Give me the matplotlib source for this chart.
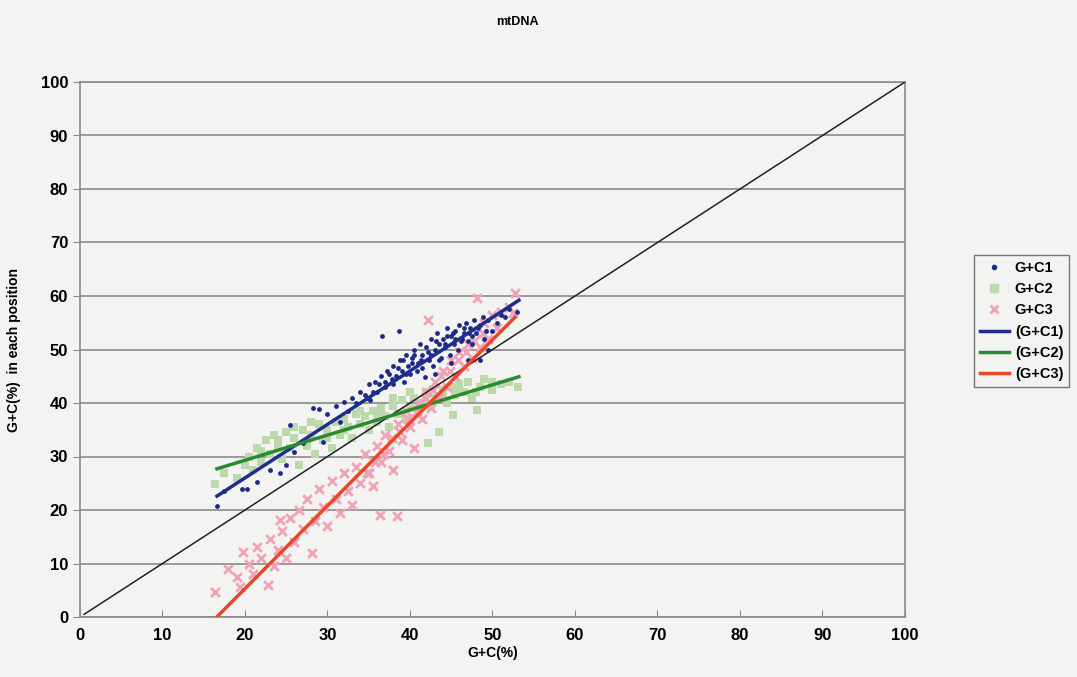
import numpy as np
import matplotlib
matplotlib.use("Agg")
import matplotlib.pyplot as plt
from matplotlib.lines import Line2D

# ---------------- data ----------------
c1_x = [16.6, 17.5, 19.6, 20.3, 21.5, 23.0, 24.2, 25.0, 25.5, 26.0, 27.0, 28.3, 29.0, 29.5, 30.0,
        31.0, 31.5, 32.0, 32.5, 33.0, 33.5, 34.0, 34.5, 35.0, 35.2, 35.8, 36.0, 36.6, 36.5, 37.0,
        37.2, 37.8, 38.0, 38.3, 38.7, 38.8, 39.0, 39.3, 39.5, 39.8, 40.0, 40.3, 40.5, 40.8, 41.0,
        41.2, 41.5, 41.8, 42.0, 42.3, 42.5, 42.8, 43.0, 43.3, 43.5, 43.8, 44.0, 44.3, 44.5, 44.8,
        45.0, 45.3, 45.5, 45.8, 46.0, 46.3, 46.5, 46.8, 47.0, 47.3, 47.5, 47.8, 48.0, 48.5, 49.0,
        49.5, 50.0, 51.0, 52.0, 53.0, 47.0, 45.0, 43.0, 49.5, 48.5,
        36.2, 37.5, 38.5, 39.2, 40.2, 41.3, 42.2, 43.2, 44.2, 45.2, 46.2, 47.2, 48.2, 49.2, 50.5,
        34.8, 35.5, 37.0, 38.0, 39.5, 40.5, 41.5, 42.5, 43.5, 44.5, 45.5, 46.5, 47.5, 48.8, 51.5]
c1_y = [20.7, 23.5, 23.9, 24.0, 25.2, 27.5, 26.9, 28.5, 35.9, 30.8, 32.5, 39.1, 38.8, 32.7, 38.0,
        39.5, 36.5, 40.2, 38.5, 41.0, 40.0, 42.0, 41.5, 43.5, 40.5, 44.0, 42.0, 52.5, 45.0, 43.0,
        46.0, 44.5, 47.0, 45.0, 53.5, 48.0, 46.0, 44.0, 49.0, 47.0, 45.5, 48.5, 50.0, 46.0, 47.5,
        51.0, 49.0, 44.8, 50.5, 48.0, 52.0, 47.0, 50.0, 53.0, 51.0, 48.5, 52.0, 50.5, 54.0, 49.0,
        52.5, 51.0, 53.5, 50.0, 54.5, 52.0, 53.0, 55.0, 51.5, 54.0, 52.5, 55.5, 53.0, 54.5, 52.0,
        55.5, 53.5, 56.5, 57.5, 57.0, 48.0, 47.5, 45.5, 50.0, 48.0,
        43.5, 45.5, 46.5, 48.0, 47.5, 48.0, 49.5, 51.5, 51.0, 53.0, 51.5, 53.0, 54.0, 53.5, 55.0,
        41.0, 42.0, 44.0, 43.5, 45.5, 49.0, 46.5, 49.0, 48.0, 52.5, 52.0, 54.0, 51.0, 56.0, 56.0]

c2_x = [16.4, 17.5, 19.0, 20.0, 20.5, 21.0, 21.5, 22.0, 22.5, 23.0, 23.5, 24.0, 24.5, 25.0, 25.5,
        26.0, 26.5, 27.0, 27.5, 28.0, 28.5, 29.0, 29.5, 30.0, 30.5, 31.0, 31.5, 32.0, 32.5, 33.0,
        33.5, 34.0, 34.5, 35.0, 35.5, 36.0, 36.5, 37.0, 37.5, 38.0, 38.5, 39.0, 39.5, 40.0, 40.5,
        41.0, 41.5, 42.0, 42.2, 42.5, 43.0, 43.5, 44.0, 44.5, 45.0, 45.2, 45.5, 46.0, 46.5, 47.0,
        47.5, 48.1, 48.5, 49.0, 50.0, 51.0, 52.0, 53.1,
        22.0, 24.0, 26.0, 28.0, 30.0, 32.0, 34.0, 36.0, 38.0, 40.0, 42.0, 44.0, 46.0, 48.0, 50.0]
c2_y = [24.9, 27.0, 26.0, 28.5, 30.0, 27.5, 31.5, 29.0, 33.0, 30.5, 34.0, 32.0, 29.5, 34.5, 31.5,
        33.5, 28.5, 35.0, 32.0, 34.0, 30.5, 36.0, 33.0, 35.0, 31.5, 36.5, 34.0, 37.0, 35.5, 33.5,
        38.0, 36.0, 37.5, 35.0, 38.5, 36.5, 39.0, 37.5, 35.5, 39.5, 38.0, 40.5, 37.0, 39.0, 41.0,
        38.5, 40.0, 42.0, 32.5, 39.5, 41.0, 34.5, 42.5, 40.0, 43.0, 37.8, 41.5, 43.5, 42.0, 44.0,
        41.0, 38.7, 43.0, 44.5, 42.5, 43.5, 44.0, 43.0,
        31.0, 33.0, 35.5, 36.5, 33.5, 35.0, 38.5, 38.0, 41.0, 42.0, 40.5, 41.5, 42.5, 42.0, 44.0]

c3_x = [16.4, 18.0, 19.0, 19.4, 19.8, 20.5, 21.0, 21.5, 22.0, 22.8, 23.0, 23.5, 24.0, 24.2, 24.5,
        25.0, 25.5, 26.0, 26.5, 27.0, 27.5, 28.1, 28.5, 29.0, 29.5, 30.0, 30.5, 31.0, 31.5, 32.0,
        32.5, 33.0, 33.5, 34.0, 34.5, 35.0, 35.5, 36.0, 36.4, 36.5, 37.0, 37.5, 38.0, 38.4, 38.5,
        39.0, 39.5, 40.0, 40.5, 41.0, 41.5, 42.0, 42.2, 42.5, 43.0, 43.5, 44.0, 44.5, 45.0, 45.5,
        46.0, 46.5, 47.0, 47.5, 48.1, 48.0, 48.5, 49.0, 49.5, 50.0, 50.5, 51.0, 52.0, 52.5, 52.7,
        36.8, 37.8, 38.8, 39.8, 40.8, 41.8, 42.8, 43.8, 44.8, 45.8, 46.8, 47.8, 48.8, 35.8, 34.8]
c3_y = [4.7, 9.0, 7.5, 5.6, 12.1, 10.0, 8.0, 13.0, 11.0, 6.0, 14.5, 9.5, 12.5, 18.1, 16.0,
        11.0, 18.5, 14.0, 20.0, 16.5, 22.0, 12.0, 18.0, 24.0, 20.5, 17.0, 25.5, 22.0, 19.5, 27.0,
        23.5, 21.0, 28.0, 25.0, 30.5, 27.0, 24.5, 32.0, 19.1, 29.0, 34.0, 31.0, 27.5, 18.9, 36.0,
        33.0, 38.5, 35.5, 31.5, 40.0, 37.0, 42.0, 55.5, 39.0, 44.0, 41.0, 46.0, 43.0, 48.0, 45.0,
        49.5, 47.0, 51.0, 48.5, 59.6, 53.0, 50.5, 55.0, 52.0, 56.5, 54.0, 57.0, 58.0, 56.8, 60.6,
        30.5, 33.5, 34.5, 37.0, 38.5, 41.0, 42.5, 45.0, 46.0, 48.0, 49.5, 51.5, 53.0, 29.0, 27.0]

# linear trend lines: (slope, intercept, x_start, x_end)
fit1 = (1.00, 6.0, 16.6, 53.2)
fit2 = (0.47, 19.9, 16.6, 53.2)
fit3 = (1.55, -25.7, 16.6, 52.7)

diag_x = [0.5, 100]
diag_y = [0.5, 100]

ticks = list(range(0, 101, 10))
series_labels = ["G+C1", "G+C2", "G+C3", "(G+C1)", "(G+C2)", "(G+C3)"]

# ---------------- styling ----------------
plt.rcParams['font.family'] = ['Liberation Sans', 'DejaVu Sans']
plt.rcParams['font.weight'] = 'bold'

bg = '#f3f3f1'
fig = plt.figure(figsize=(10.77, 6.77), dpi=100, facecolor=bg)
ax = fig.add_axes([80/1077, 60/677, 825/1077, 535/677], facecolor=bg)

blue_pt = '#1c2a86'
green_pt = '#bcd9ac'
pink_pt = '#f0a3b6'
blue_ln = '#1f2e8e'
green_ln = '#2a8a30'
red_ln = '#e8472c'

ax.set_xlim(0, 100)
ax.set_ylim(0, 100)
ax.set_xticks(ticks)
ax.set_yticks(ticks)
ax.yaxis.grid(True, color='#8a8a8a', linewidth=1.2)
ax.set_axisbelow(True)
for s in ax.spines.values():
    s.set_color('#8a8a8a')
    s.set_linewidth(1.2)

ax.scatter(c2_x, c2_y, marker='s', s=40, color=green_pt, linewidths=0, zorder=2)
ax.scatter(c3_x, c3_y, marker='x', s=40, color=pink_pt, linewidths=2, zorder=3)
ax.scatter(c1_x, c1_y, marker='o', s=12, color=blue_pt, linewidths=0, zorder=4)

ax.plot(diag_x, diag_y, color='#202020', linewidth=1.1, zorder=5)
for (m, b, x0, x1), col in zip([fit1, fit2, fit3], [blue_ln, green_ln, red_ln]):
    xs = np.array([x0, x1])
    ax.plot(xs, m * xs + b, color=col, linewidth=2.5, zorder=6)

ax.tick_params(axis='x', direction='in', length=5, color='#8a8a8a', labelsize=12, pad=8)
ax.tick_params(axis='y', direction='out', length=5, color='#8a8a8a', labelsize=12)
for lab in ax.get_xticklabels() + ax.get_yticklabels():
    lab.set_fontweight('bold')

ax.set_xlabel("G+C(%)", fontsize=10, fontweight='bold', labelpad=2)
ax.set_ylabel("G+C(%)  in each position", fontsize=10, fontweight='bold', labelpad=14)
fig.text(517/1077, 1 - 22/677, "mtDNA", ha='center', va='center', fontsize=9, fontweight='bold')

handles = [
    Line2D([], [], linestyle='none', marker='o', markersize=3, color=blue_pt),
    Line2D([], [], linestyle='none', marker='s', markersize=6, color=green_pt),
    Line2D([], [], linestyle='none', marker='x', markersize=6, markeredgewidth=2, color=pink_pt),
    Line2D([], [], color=blue_ln, linewidth=2.5),
    Line2D([], [], color=green_ln, linewidth=2.5),
    Line2D([], [], color=red_ln, linewidth=2.5),
]
leg = fig.legend(handles, series_labels, loc='upper left', bbox_to_anchor=(974/1077, 1 - 255/677),
                 frameon=True, fancybox=False, edgecolor='#555555', facecolor=bg,
                 fontsize=10.5, handlelength=2.0, borderpad=0.4, labelspacing=0.5,
                 handletextpad=0.4, borderaxespad=0)
leg.get_frame().set_linewidth(1.0)
for t in leg.get_texts():
    t.set_fontweight('bold')

fig.savefig("out.png", dpi=100, facecolor=bg)
